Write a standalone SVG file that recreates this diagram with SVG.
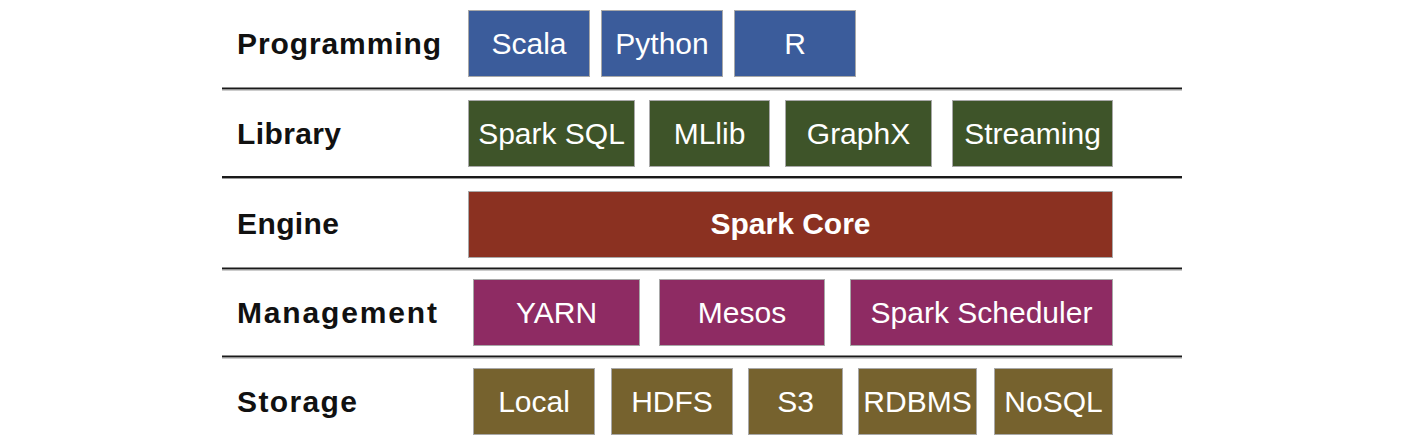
<svg xmlns="http://www.w3.org/2000/svg" width="1403" height="442" viewBox="0 0 1403 442">
<style>
.lbl{font-family:"Liberation Sans",Arial,sans-serif;font-weight:bold;font-size:30px;fill:#111}
.bt{font-family:"Liberation Sans",Arial,sans-serif;font-size:30px;fill:#fff;text-anchor:middle}
.bb{font-family:"Liberation Sans",Arial,sans-serif;font-size:30px;font-weight:bold;fill:#fff;text-anchor:middle}
.box{stroke:#a8a8a8;stroke-width:1}
.blue{fill:#3b5c9b}
.green{fill:#3e5429}
.red{fill:#8b3121}
.purple{fill:#8e2b63}
.olive{fill:#76622e}
.sep{stroke:#1a1a1a;stroke-width:2}
.sep2{stroke:#9a9a9a;stroke-width:1}
</style>
<rect width="1403" height="442" fill="#fff"/>
<g id="separators">
<line class="sep" x1="222" y1="88.5" x2="1182" y2="88.5"/>
<line class="sep2" x1="222" y1="90" x2="1182" y2="90"/>
<line class="sep" x1="222" y1="177" x2="1182" y2="177"/>
<line class="sep2" x1="222" y1="178.5" x2="1182" y2="178.5"/>
<line class="sep" x1="222" y1="268.5" x2="1182" y2="268.5"/>
<line class="sep2" x1="222" y1="270" x2="1182" y2="270"/>
<line class="sep" x1="222" y1="356.5" x2="1182" y2="356.5"/>
<line class="sep2" x1="222" y1="358" x2="1182" y2="358"/>
</g>
<g id="labels">
<text class="lbl" x="237" y="54" textLength="204" lengthAdjust="spacing">Programming</text>
<text class="lbl" x="237" y="144" textLength="104" lengthAdjust="spacing">Library</text>
<text class="lbl" x="237" y="234" textLength="102" lengthAdjust="spacing">Engine</text>
<text class="lbl" x="237" y="323" textLength="200" lengthAdjust="spacing">Management</text>
<text class="lbl" x="237" y="412" textLength="120" lengthAdjust="spacing">Storage</text>
</g>
<g id="scala"><rect class="box blue" x="468.5" y="10.5" width="121" height="66"/><text class="bt" x="529" y="54">Scala</text></g>
<g id="python"><rect class="box blue" x="601.5" y="10.5" width="121" height="66"/><text class="bt" x="662" y="54">Python</text></g>
<g id="r"><rect class="box blue" x="734.5" y="10.5" width="121" height="66"/><text class="bt" x="795" y="54">R</text></g>
<g id="sparksql"><rect class="box green" x="468.5" y="100.5" width="166" height="66"/><text class="bt" x="551.5" y="144">Spark SQL</text></g>
<g id="mllib"><rect class="box green" x="649.5" y="100.5" width="120" height="66"/><text class="bt" x="709.5" y="144">MLlib</text></g>
<g id="graphx"><rect class="box green" x="785.5" y="100.5" width="146" height="66"/><text class="bt" x="858.5" y="144">GraphX</text></g>
<g id="streaming"><rect class="box green" x="952.5" y="100.5" width="160" height="66"/><text class="bt" x="1032.5" y="144">Streaming</text></g>
<g id="sparkcore"><rect class="box red" x="468.5" y="191.5" width="644" height="66"/><text class="bb" x="790.5" y="234">Spark Core</text></g>
<g id="yarn"><rect class="box purple" x="473.5" y="279.5" width="166" height="66"/><text class="bt" x="556.5" y="323">YARN</text></g>
<g id="mesos"><rect class="box purple" x="659.5" y="279.5" width="165" height="66"/><text class="bt" x="742" y="323">Mesos</text></g>
<g id="sparkscheduler"><rect class="box purple" x="850.5" y="279.5" width="262" height="66"/><text class="bt" x="981.5" y="323">Spark Scheduler</text></g>
<g id="local"><rect class="box olive" x="473.5" y="368.5" width="121" height="66"/><text class="bt" x="534" y="412">Local</text></g>
<g id="hdfs"><rect class="box olive" x="611.5" y="368.5" width="121" height="66"/><text class="bt" x="672" y="412">HDFS</text></g>
<g id="s3"><rect class="box olive" x="748.5" y="368.5" width="94" height="66"/><text class="bt" x="795.5" y="412">S3</text></g>
<g id="rdbms"><rect class="box olive" x="858.5" y="368.5" width="118" height="66"/><text class="bt" x="917.5" y="412">RDBMS</text></g>
<g id="nosql"><rect class="box olive" x="994.5" y="368.5" width="118" height="66"/><text class="bt" x="1053.5" y="412">NoSQL</text></g>
</svg>
